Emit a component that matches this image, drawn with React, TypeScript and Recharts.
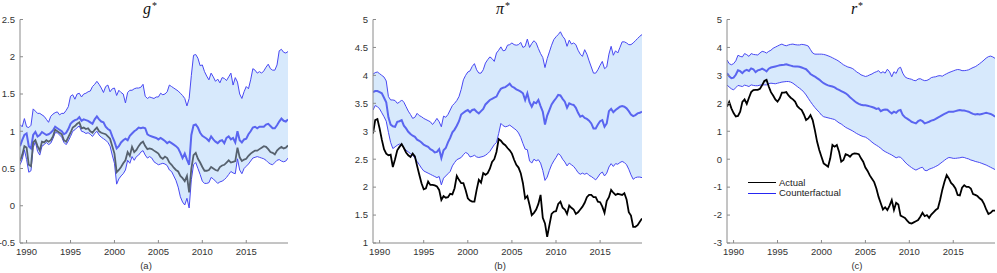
import { Area, ComposedChart, Line, XAxis, YAxis } from 'recharts'

// quarterly grid, 1989Q2 .. 2019Q4
const quarters = Array.from({ length: 123 }, (_, i) => 1989.25 + i * 0.25)
const yearTicks = [1990, 1995, 2000, 2005, 2010, 2015]

// g* panel
const gUpper = [
  1.09, 1.06, 1.17,
  1.06, 1.05, 1.08, 1.3, 1.27, 1.24, 1.24, 1.22, 1.2, 1.16, 1.12, 1.2,
  1.23, 1.25, 1.26, 1.22, 1.24, 1.24, 1.28, 1.33, 1.47, 1.49, 1.43, 1.5,
  1.51, 1.46, 1.5, 1.51, 1.53, 1.54, 1.6, 1.63, 1.67, 1.63, 1.58, 1.52,
  1.6, 1.62, 1.53, 1.57, 1.58, 1.48, 1.55, 1.52, 1.5, 1.38, 1.52, 1.55,
  1.55, 1.57, 1.58, 1.58, 1.59, 1.63, 1.47, 1.44, 1.46, 1.45, 1.44, 1.46,
  1.46, 1.51, 1.49, 1.5, 1.53, 1.62, 1.6, 1.58, 1.56, 1.54, 1.51, 1.48,
  1.44, 1.34, 1.44, 1.75, 2.02, 2.03, 1.98, 1.88, 1.89, 1.8, 1.74, 1.69,
  1.78, 1.73, 1.67, 1.7, 1.65, 1.72, 1.71, 1.68, 1.73, 1.78, 1.62, 1.72,
  1.66, 1.5, 1.44, 1.53, 1.6, 1.57, 1.69, 1.84, 1.82, 1.78, 1.8, 1.78,
  1.81, 1.86, 1.9, 1.84, 1.82, 1.82, 1.89, 2.08, 2.1, 2.06, 2.05, 2.07,
]
const gMedian = [
  0.8, 0.88, 0.95,
  0.97, 0.8, 0.77, 0.95, 0.99, 0.93, 0.95, 0.99, 0.97, 0.95, 0.96, 0.98,
  1.01, 1.06, 1.04, 1.02, 1.0, 0.96, 0.98, 1.03, 1.1, 1.13, 1.15, 1.16,
  1.19, 1.14, 1.16, 1.15, 1.14, 1.12, 1.1, 1.16, 1.2, 1.16, 1.13, 1.12,
  1.06, 1.03, 1.01, 0.93, 0.86, 0.77, 0.8, 0.85, 0.88, 0.9, 0.88, 0.94,
  0.97, 1.0, 1.02, 1.05, 1.04, 1.05, 1.04, 0.96, 0.94, 0.93, 0.92, 0.91,
  0.89, 0.91, 0.89, 0.87, 0.84, 0.86, 0.84, 0.82, 0.8, 0.77, 0.71, 0.64,
  0.7, 0.62, 0.55, 0.95, 1.08, 1.09, 1.05, 0.98, 0.94, 0.92, 0.9, 0.87,
  0.93, 0.89, 0.86, 0.84, 0.87, 0.88, 0.84, 0.91, 0.93, 0.89, 0.91, 0.85,
  1.0, 0.88, 0.85, 0.89, 0.9, 0.96, 1.0, 1.05, 1.06, 1.04, 1.06, 1.06,
  1.06, 1.09, 1.1, 1.07, 1.04, 1.04, 1.08, 1.13, 1.17, 1.14, 1.13, 1.16,
]
const gLower = [
  0.55, 0.62, 0.75,
  0.62, 0.45, 0.47, 0.78, 0.86, 0.73, 0.68, 0.8, 0.82, 0.85, 0.82, 0.84,
  0.9, 0.98, 0.98, 0.95, 0.92, 0.85, 0.82, 0.87, 0.93, 1.0, 1.02, 1.05,
  1.07, 1.0, 0.99, 0.97, 0.98, 0.96, 0.93, 0.97, 1.0, 0.95, 0.92, 0.9,
  0.88, 0.85, 0.8, 0.68, 0.57, 0.29, 0.36, 0.4, 0.43, 0.48, 0.61, 0.57,
  0.66, 0.61, 0.66, 0.68, 0.72, 0.74, 0.68, 0.64, 0.66, 0.64, 0.59, 0.57,
  0.55, 0.56, 0.57, 0.56, 0.54, 0.48, 0.46, 0.4, 0.34, 0.25, 0.12, 0.05,
  0.01, 0.1, -0.03, 0.35, 0.55, 0.58, 0.5, 0.42, 0.33, 0.3, 0.3, 0.31,
  0.38, 0.36, 0.33, 0.3, 0.32, 0.33, 0.35, 0.38, 0.42, 0.46, 0.44, 0.43,
  0.63, 0.48, 0.43, 0.5, 0.53, 0.56, 0.6, 0.64, 0.65, 0.66, 0.65, 0.64,
  0.63, 0.61, 0.58, 0.56, 0.55, 0.58, 0.61, 0.62, 0.6, 0.59, 0.6, 0.64,
]
const gActual = [
  0.6, 0.68, 0.8,
  0.78, 0.55, 0.53, 0.85, 0.88, 0.8, 0.74, 0.86, 0.85, 0.88, 0.86, 0.88,
  0.93, 1.02, 1.0, 0.98, 0.96, 0.88, 0.86, 0.92, 0.98, 1.05, 1.07, 1.1,
  1.12, 1.04, 1.05, 1.03, 1.04, 1.0, 0.98, 1.02, 1.05, 1.0, 0.98, 0.97,
  0.96, 0.93, 0.9, 0.8, 0.7, 0.45, 0.48, 0.52, 0.57, 0.61, 0.72, 0.67,
  0.79, 0.72, 0.75, 0.8, 0.84, 0.86, 0.8, 0.76, 0.77, 0.76, 0.74, 0.72,
  0.7, 0.65, 0.63, 0.66, 0.64, 0.58, 0.55, 0.51, 0.48, 0.46, 0.4, 0.37,
  0.33, 0.4, 0.18, 0.5, 0.68, 0.71, 0.63, 0.58, 0.52, 0.47, 0.47, 0.48,
  0.52, 0.5, 0.48, 0.47, 0.52, 0.54, 0.55, 0.58, 0.61, 0.58, 0.59, 0.6,
  0.78, 0.65, 0.6, 0.62, 0.63, 0.67, 0.7, 0.72, 0.74, 0.74, 0.76, 0.78,
  0.8, 0.79, 0.76, 0.72, 0.71, 0.69, 0.74, 0.77, 0.79, 0.77, 0.78, 0.81,
]

// pi* panel
const pUpper = [
  4.02, 4.05, 4.06,
  4.03, 4.0, 3.97, 3.9, 3.62, 3.56, 3.56, 3.55, 3.5, 3.52, 3.56, 3.52,
  3.44, 3.36, 3.3, 3.23, 3.25, 3.32, 3.28, 3.26, 3.23, 3.21, 3.19, 3.17,
  3.12, 3.17, 3.23, 3.17, 3.08, 3.27, 3.25, 3.3, 3.38, 3.46, 3.5, 3.55,
  3.62, 3.75, 3.92, 4.0, 4.06, 4.08, 4.16, 4.21, 4.1, 4.04, 4.04, 4.1,
  4.22, 4.28, 4.33, 4.3, 4.25, 4.4, 4.45, 4.51, 4.44, 4.45, 4.54, 4.55,
  4.58, 4.55, 4.54, 4.55, 4.59, 4.5, 4.52, 4.65, 4.5, 4.57, 4.62, 4.58,
  4.48, 4.39, 4.32, 4.14, 4.3, 4.42, 4.54, 4.64, 4.69, 4.73, 4.78, 4.7,
  4.65, 4.52, 4.63, 4.56, 4.58, 4.55, 4.45, 4.38, 4.34, 4.46, 4.38, 4.26,
  4.15, 4.04, 4.04, 4.1, 4.18, 4.25, 4.12, 4.15, 4.38, 4.52, 4.36, 4.44,
  4.4, 4.5, 4.6, 4.6, 4.58, 4.55, 4.55, 4.58, 4.62, 4.66, 4.7, 4.73,
]
const pMedian = [
  3.7, 3.72, 3.72,
  3.7, 3.68, 3.6, 3.52, 3.25, 3.12, 3.09, 3.08, 3.17, 3.18, 3.2, 3.1,
  3.05, 2.99, 2.95, 2.92, 2.9, 2.85, 2.83, 2.8, 2.76, 2.74, 2.72, 2.68,
  2.66, 2.62, 2.63, 2.68, 2.52, 2.66, 2.7, 2.8, 2.88, 2.98, 3.03, 3.1,
  3.18, 3.3, 3.33, 3.36, 3.38, 3.34, 3.38, 3.39, 3.35, 3.32, 3.36, 3.4,
  3.48, 3.52, 3.56, 3.58, 3.6, 3.62, 3.7, 3.76, 3.78, 3.79, 3.82, 3.85,
  3.8, 3.78, 3.75, 3.73, 3.71, 3.68, 3.56, 3.68, 3.52, 3.44, 3.52, 3.5,
  3.56, 3.45, 3.35, 3.12, 3.28, 3.38, 3.48, 3.54, 3.59, 3.65, 3.64, 3.58,
  3.53, 3.42, 3.5, 3.48, 3.47, 3.42, 3.33, 3.26, 3.28, 3.24, 3.22, 3.19,
  3.14, 3.05, 3.05, 3.12, 3.18, 3.2, 3.08, 3.14, 3.36, 3.4, 3.34, 3.38,
  3.41, 3.44, 3.45, 3.44, 3.41, 3.36, 3.3, 3.27, 3.29, 3.32, 3.33, 3.35,
]
const pLower = [
  3.38, 3.46, 3.44,
  3.4, 3.33, 3.26, 3.18, 2.98, 2.8, 2.69, 2.72, 2.75, 2.77, 2.76, 2.7,
  2.66, 2.63, 2.6, 2.57, 2.52, 2.46, 2.4, 2.34, 2.29, 2.27, 2.25, 2.23,
  2.21, 2.19, 2.17, 2.19, 2.04, 2.16, 2.2, 2.24, 2.28, 2.38, 2.44, 2.49,
  2.51, 2.53, 2.58, 2.62, 2.6, 2.54, 2.55, 2.57, 2.54, 2.53, 2.54, 2.55,
  2.57, 2.6, 2.64, 2.7, 2.76, 2.8, 2.96, 3.14, 3.1, 3.08, 3.09, 3.11,
  3.08, 3.05, 3.02, 2.97, 2.89, 2.78, 2.68, 2.67, 2.47, 2.43, 2.5, 2.47,
  2.49, 2.43, 2.3, 2.12, 2.18, 2.3, 2.4, 2.47, 2.53, 2.6, 2.57, 2.5,
  2.45, 2.38, 2.43, 2.4, 2.37, 2.32, 2.26, 2.23, 2.25, 2.23, 2.25, 2.21,
  2.19, 2.16, 2.13, 2.18, 2.24, 2.27, 2.2, 2.25, 2.36, 2.42, 2.37, 2.42,
  2.41, 2.44, 2.46, 2.44, 2.4, 2.32, 2.22, 2.14, 2.17, 2.18, 2.18, 2.17,
]
const pActual = [
  2.96, 3.2, 3.22,
  3.05, 2.85, 2.68, 2.6, 2.57, 2.58, 2.36, 2.5, 2.66, 2.72, 2.77, 2.7,
  2.62, 2.57, 2.54, 2.6, 2.55, 2.38, 2.22, 2.07, 1.96, 1.98, 2.1, 2.04,
  2.04, 2.03, 2.01, 1.95, 1.77, 1.84, 1.81, 1.82, 1.88, 1.87, 1.98, 2.2,
  2.13, 2.07, 2.07, 1.95, 1.8, 1.76, 1.74, 1.74, 1.95, 2.13, 2.08, 2.25,
  2.22, 2.25, 2.33, 2.45, 2.5, 2.63, 2.86, 2.83, 2.78, 2.75, 2.7, 2.66,
  2.6, 2.49, 2.4, 2.35, 2.25, 2.07, 1.8, 1.84, 1.68, 1.5, 1.54, 1.6,
  1.7, 1.86, 1.45, 1.35, 1.11, 1.32, 1.52, 1.56, 1.57, 1.7, 1.74, 1.63,
  1.6, 1.52, 1.67, 1.63, 1.6, 1.52, 1.55, 1.6, 1.65, 1.72, 1.82, 1.86,
  1.86, 1.82, 1.82, 1.74, 1.73, 1.65, 1.54, 1.75, 1.82, 1.95, 1.9, 1.86,
  1.88, 1.87, 1.86, 1.89, 1.78, 1.55, 1.49, 1.29, 1.29, 1.32, 1.38, 1.44,
]

// r* panel
const rUpper = [
  3.55, 3.42, 3.38,
  3.42, 3.52, 3.72, 3.68, 3.66, 3.78, 3.74, 3.68, 3.78, 3.75, 3.74, 3.73,
  3.8, 3.86, 3.84, 3.8, 3.86, 3.9, 3.97, 4.01, 4.05, 4.09, 4.12, 4.08,
  4.06, 4.09, 4.11, 4.12, 4.1, 4.09, 4.09, 4.11, 4.1, 4.08, 4.05, 3.92,
  3.8, 3.76, 3.76, 3.76, 3.76, 3.75, 3.73, 3.7, 3.67, 3.63, 3.59, 3.55,
  3.5, 3.44, 3.38, 3.34, 3.3, 3.28, 3.25, 3.2, 3.12, 3.08, 3.02, 2.99,
  2.96, 2.98, 3.02, 3.05, 3.1, 3.13, 3.17, 3.08, 3.13, 3.08, 3.22, 3.13,
  2.95, 3.13, 3.07, 3.25, 3.29, 3.08, 2.95, 2.9, 2.88, 2.86, 2.82, 2.81,
  2.87, 2.88, 2.84, 2.81, 2.82, 2.86, 2.92, 2.94, 2.95, 2.98, 2.99, 2.97,
  3.02, 3.06, 3.1, 3.13, 3.16, 3.19, 3.21, 3.2, 3.17, 3.17, 3.18, 3.2,
  3.24, 3.28, 3.31, 3.36, 3.42, 3.48, 3.55, 3.62, 3.67, 3.69, 3.66, 3.61,
]
const rMedian = [
  3.08, 2.97, 2.9,
  2.92, 3.02, 3.18, 3.15, 3.08, 3.16, 3.2, 3.16, 3.25, 3.22, 3.12, 3.18,
  3.2, 3.24, 3.2, 3.14, 3.24, 3.28, 3.3, 3.32, 3.34, 3.36, 3.37, 3.38,
  3.4, 3.37, 3.35, 3.33, 3.32, 3.32, 3.31, 3.28, 3.25, 3.22, 3.14, 3.05,
  3.0, 2.96, 2.9, 2.85, 2.78, 2.72, 2.68, 2.64, 2.62, 2.6, 2.57, 2.52,
  2.48, 2.44, 2.4, 2.36, 2.3, 2.22, 2.15, 2.08, 2.02, 1.98, 1.95, 1.93,
  1.93, 1.91, 1.89, 1.87, 1.84, 1.8, 1.82, 1.72, 1.76, 1.78, 1.77, 1.7,
  1.64, 1.7, 1.66, 1.74, 1.76, 1.58, 1.5, 1.45, 1.4, 1.34, 1.31, 1.28,
  1.36, 1.4, 1.36, 1.28, 1.31, 1.34, 1.38, 1.4, 1.44, 1.49, 1.53, 1.58,
  1.62, 1.66, 1.7, 1.7, 1.7, 1.72, 1.74, 1.76, 1.74, 1.74, 1.72, 1.7,
  1.66, 1.62, 1.6, 1.62, 1.6, 1.62, 1.64, 1.66, 1.64, 1.62, 1.58, 1.52,
]
const rLower = [
  2.66, 2.58, 2.52,
  2.48, 2.56, 2.64, 2.62, 2.6, 2.65, 2.63, 2.6, 2.66, 2.64, 2.63, 2.63,
  2.65, 2.66, 2.66, 2.66, 2.7, 2.72, 2.71, 2.7, 2.72, 2.74, 2.76, 2.77,
  2.78, 2.78, 2.76, 2.72, 2.66, 2.6, 2.54, 2.48, 2.4, 2.3, 2.18, 2.06,
  1.95, 1.85, 1.76, 1.68, 1.58, 1.52, 1.5, 1.48, 1.46, 1.44, 1.42, 1.36,
  1.3, 1.26, 1.2, 1.14, 1.1, 1.06, 1.02, 0.97, 0.92, 0.88, 0.84, 0.81,
  0.79, 0.74, 0.68, 0.61, 0.55, 0.5, 0.45, 0.39, 0.32, 0.27, 0.23, 0.19,
  0.15, 0.1, 0.05, 0.08, 0.07, -0.01, -0.1, -0.18, -0.24, -0.3, -0.35, -0.39,
  -0.35, -0.31, -0.29, -0.4, -0.41, -0.36, -0.33, -0.3, -0.26, -0.22, -0.16, -0.1,
  -0.04, 0.02, 0.06, 0.05, 0.03, 0.03, 0.04, 0.05, 0.07, 0.06, 0.03, 0.01,
  -0.03, -0.05, -0.08, -0.1, -0.12, -0.15, -0.18, -0.21, -0.25, -0.29, -0.33, -0.37,
]
const rActual = [
  1.88, 2.05, 1.82,
  1.65, 1.53, 1.55, 1.7, 2.05, 2.14, 1.98, 2.2, 2.4, 2.47, 2.48, 2.48,
  2.52, 2.65, 2.8, 2.84, 2.6, 2.4, 2.28, 2.14, 2.06, 2.18, 2.38, 2.38,
  2.4, 2.28, 2.2, 2.14, 2.06, 1.9, 1.82, 1.76, 1.6, 1.4, 1.46, 1.58,
  1.4, 1.04, 0.63, 0.33, 0.09, -0.15, -0.21, -0.27, 0.03, 0.51, 0.45, 0.51,
  0.27, -0.09, -0.03, 0.18, 0.15, 0.09, 0.18, 0.21, 0.2, 0.18, 0.03, -0.09,
  -0.3, -0.42, -0.58, -0.7, -0.82, -1.05, -1.35, -1.58, -1.8, -1.72, -1.82, -1.66,
  -1.46, -1.82, -1.56, -1.62, -2.02, -2.06, -2.1, -2.2, -2.28, -2.3, -2.26, -2.22,
  -2.18, -2.06, -1.92, -2.04, -2.0, -2.1, -1.98, -1.9, -1.82, -1.76, -1.46, -1.1,
  -0.81, -0.57, -0.69, -0.85, -0.93, -1.05, -1.28, -1.3, -1.02, -0.93, -0.99, -0.99,
  -1.05, -1.25, -1.28, -1.32, -1.4, -1.46, -1.6, -1.8, -1.96, -1.92, -1.84, -1.84,
]

const FONT = '"Liberation Sans", Arial, Helvetica, sans-serif'
const AXIS = '#8a8a8a'
const BAND = '#d7e9fc'
const EDGE = '#4848f2'
const MID = '#5a65f0'

type PanelProps = {
  left: number
  width: number
  axisWidth: number
  rightGap: number
  upper: number[]
  median: number[]
  lower: number[]
  actual: number[]
  actualColor: string
  domain: [number, number]
  ticks: number[]
}

function Panel(p: PanelProps) {
  const rows = quarters.map((t, i) => ({
    t,
    band: [p.lower[i], p.upper[i]],
    upper: p.upper[i],
    median: p.median[i],
    lower: p.lower[i],
    actual: p.actual[i],
  }))
  const tick = { fontSize: 9.5, fontFamily: FONT, fill: '#333' }
  return (
    <div style={{ position: 'absolute', left: p.left, top: 0 }}>
      <ComposedChart
        width={p.width}
        height={273}
        data={rows}
        margin={{ top: 19.5, right: p.rightGap, bottom: 0, left: 0 }}
      >
        <XAxis
          dataKey="t"
          type="number"
          domain={[1989.25, 2019.75]}
          ticks={yearTicks}
          allowDataOverflow
          interval={0}
          height={30}
          tickSize={-3}
          tickMargin={8}
          tick={tick}
          axisLine={{ stroke: AXIS }}
          tickLine={{ stroke: AXIS }}
        />
        <YAxis
          type="number"
          domain={p.domain}
          ticks={p.ticks}
          allowDataOverflow
          interval={0}
          width={p.axisWidth}
          tickSize={-3}
          tickMargin={8}
          tick={tick}
          axisLine={{ stroke: AXIS }}
          tickLine={{ stroke: AXIS }}
        />
        <Area
          dataKey="band"
          type="linear"
          stroke="none"
          fill={BAND}
          fillOpacity={1}
          isAnimationActive={false}
        />
        <Line dataKey="upper" type="linear" stroke={EDGE} strokeWidth={1} dot={false} isAnimationActive={false} />
        <Line dataKey="lower" type="linear" stroke={EDGE} strokeWidth={1} dot={false} isAnimationActive={false} />
        <Line dataKey="median" type="linear" stroke={MID} strokeWidth={2} dot={false} isAnimationActive={false} />
        <Line dataKey="actual" type="linear" stroke={p.actualColor} strokeWidth={1.8} dot={false} isAnimationActive={false} />
      </ComposedChart>
    </div>
  )
}

function Title({ x, sym }: { x: number; sym: string }) {
  return (
    <div
      style={{
        position: 'absolute',
        left: x - 30,
        top: 0,
        width: 60,
        textAlign: 'center',
        fontFamily: '"Liberation Serif", "Times New Roman", serif',
        fontStyle: 'italic',
        fontSize: 16,
        lineHeight: '17px',
        color: '#111',
      }}
    >
      {sym}
      <span style={{ position: 'relative', top: -5, fontSize: 10, fontStyle: 'normal', marginLeft: 1 }}>*</span>
    </div>
  )
}

function SubLabel({ x, text }: { x: number; text: string }) {
  return (
    <div
      style={{
        position: 'absolute',
        left: x - 20,
        top: 260,
        width: 40,
        textAlign: 'center',
        fontFamily: FONT,
        fontSize: 9.5,
        lineHeight: '12px',
        color: '#333',
      }}
    >
      {text}
    </div>
  )
}

function LegendRow({ top, color, text }: { top: number; color: string; text: string }) {
  return (
    <div style={{ position: 'absolute', left: 748, top: top - 6, height: 12, display: 'flex', alignItems: 'center' }}>
      <div style={{ width: 28, height: 0, borderTop: `1.6px solid ${color}` }} />
      <span style={{ marginLeft: 3, fontFamily: FONT, fontSize: 9.5, color: '#222', lineHeight: '12px' }}>{text}</span>
    </div>
  )
}

export default function App() {
  return (
    <div style={{ position: 'absolute', left: 0, top: 0, width: 997, height: 273, background: '#fff', overflow: 'hidden' }}>
      <Panel
        left={0}
        width={300}
        axisWidth={20}
        rightGap={12}
        upper={gUpper}
        median={gMedian}
        lower={gLower}
        actual={gActual}
        actualColor="#56616e"
        domain={[-0.5, 2.5]}
        ticks={[-0.5, 0, 0.5, 1, 1.5, 2, 2.5]}
      />
      <Panel
        left={340}
        width={312}
        axisWidth={33}
        rightGap={10}
        upper={pUpper}
        median={pMedian}
        lower={pLower}
        actual={pActual}
        actualColor="#000"
        domain={[1, 5]}
        ticks={[1, 1.5, 2, 2.5, 3, 3.5, 4, 4.5, 5]}
      />
      <Panel
        left={690}
        width={307}
        axisWidth={37}
        rightGap={2}
        upper={rUpper}
        median={rMedian}
        lower={rLower}
        actual={rActual}
        actualColor="#000"
        domain={[-3, 5]}
        ticks={[-3, -2, -1, 0, 1, 2, 3, 4, 5]}
      />
      <Title x={150} sym="g" />
      <Title x={503} sym="π" />
      <Title x={857} sym="r" />
      <SubLabel x={146} text="(a)" />
      <SubLabel x={500} text="(b)" />
      <SubLabel x={857} text="(c)" />
      <LegendRow top={182.7} color="#000" text="Actual" />
      <LegendRow top={193.3} color="#2626f2" text="Counterfactual" />
    </div>
  )
}
